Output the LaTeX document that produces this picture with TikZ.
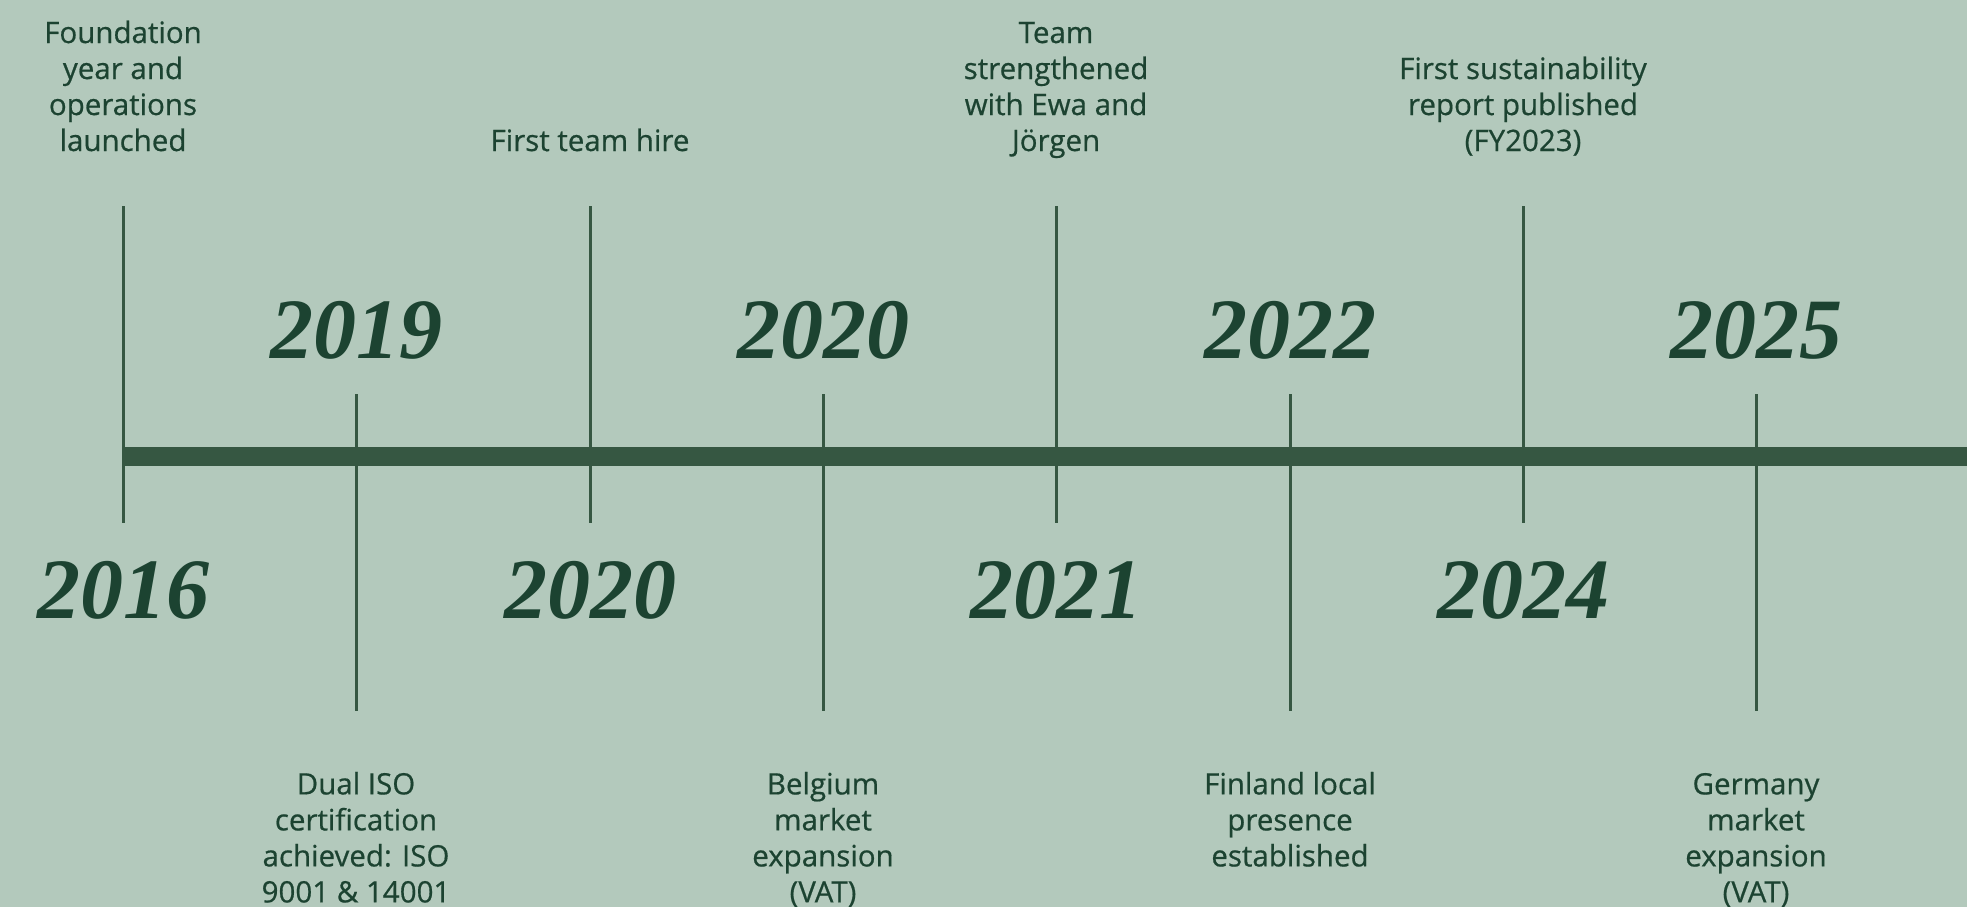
\documentclass[tikz,border=0pt]{standalone}
\usepackage{fontspec}
\setmainfont{Open Sans}[FakeBold=0.6]
\newfontfamily\yearfont{Liberation Serif}
\definecolor{bgc}{HTML}{B3C9BC}
\definecolor{linec}{HTML}{365742}
\definecolor{textc}{HTML}{1C4331}
\tikzset{
  mainline/.style={draw=linec, line width=19pt},
  tick/.style={draw=linec, line width=3pt},
  desc/.style={text=textc, font=\fontsize{29.5}{36}\selectfont, align=center, inner sep=0pt},
  yearlbl/.style={text=textc, font=\yearfont\bfseries\itshape\fontsize{86}{86}\selectfont, inner sep=0pt, anchor=center}
}
\begin{document}
\begin{tikzpicture}[x=1pt,y=-1pt]
\fill[bgc] (0,0) rectangle (1967,907);
\useasboundingbox (0,0) rectangle (1967,907);
\coordinate (start) at (123,456);
\coordinate (end) at (1967,456);
\draw[mainline] (start) -- (end);
% upper events
\foreach \n/\x/\yr/\t in {a/123/2016/{Foundation\\year and\\operations\\launched},
                         c/590/2020/{First team hire},
                         e/1056/2021/{Team\\strengthened\\with Ewa and\\Jörgen},
                         g/1523/2024/{First sustainability\\report published\\(FY2023)}}{
  \coordinate (top\n) at (\x,206);
  \coordinate (bot\n) at (\x,523);
  \draw[tick] (top\n) -- (bot\n);
  \node[desc, anchor=south] (desc\n) at (\x,162) {\t\strut};
  \node[yearlbl] (year\n) at (\x,590) {\yr};
}
% lower events
\foreach \n/\x/\yr/\t in {b/356/2019/{Dual ISO\\certification\\achieved: ISO\\9001 \& 14001},
                         d/823/2020/{Belgium\\market\\expansion\\(VAT)},
                         f/1290/2022/{Finland local\\presence\\established},
                         h/1756/2025/{Germany\\market\\expansion\\(VAT)}}{
  \coordinate (top\n) at (\x,394);
  \coordinate (bot\n) at (\x,711);
  \draw[tick] (top\n) -- (bot\n);
  \node[desc, anchor=north] (desc\n) at (\x,769) {\strut\t};
  \node[yearlbl] (year\n) at (\x,330) {\yr};
}
\end{tikzpicture}
\end{document}
